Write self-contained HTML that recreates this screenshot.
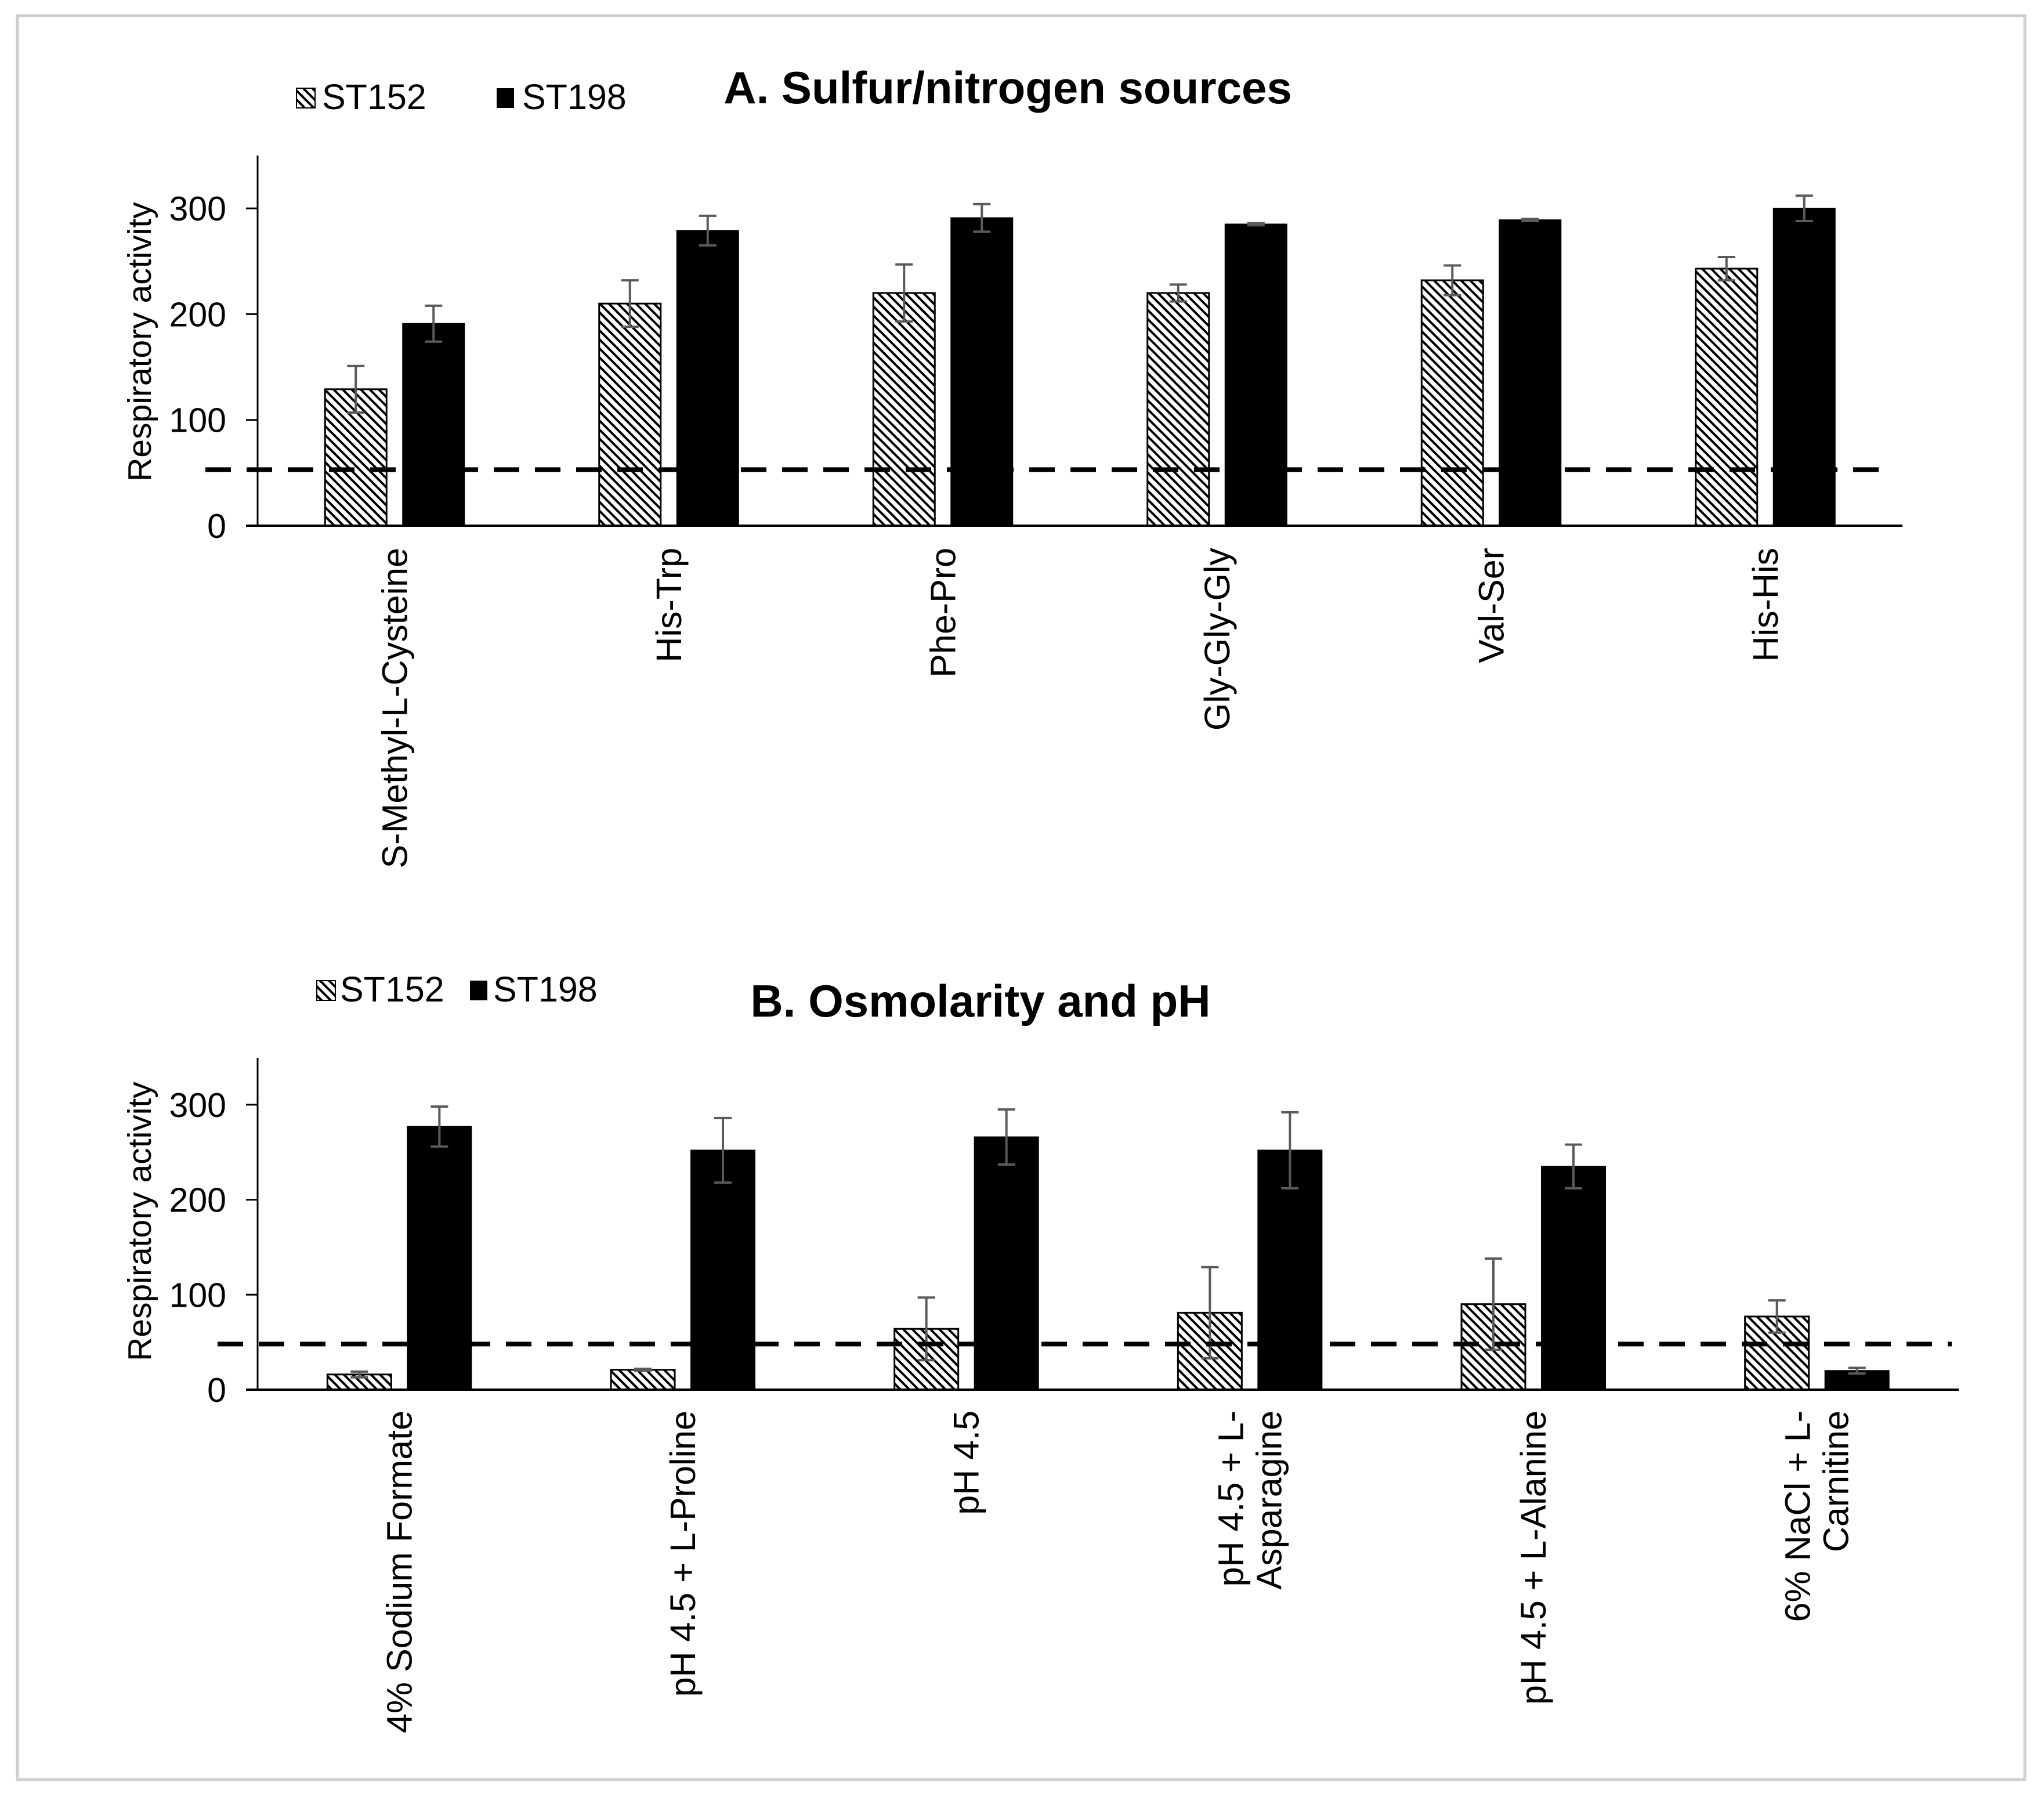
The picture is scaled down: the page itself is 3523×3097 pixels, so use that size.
<!DOCTYPE html>
<html><head><meta charset="utf-8">
<style>
html,body{margin:0;padding:0;background:#fff;}
svg{display:block;font-family:"Liberation Sans",Arial,sans-serif;}
</style></head>
<body>
<svg id="fig" width="3523" height="3097" viewBox="0 0 3523 3097" xmlns="http://www.w3.org/2000/svg">
<defs>
<pattern id="hatch" patternUnits="userSpaceOnUse" width="11" height="11" patternTransform="rotate(45)">
<rect width="11" height="11" fill="#fff"/>
<rect x="0" y="0" width="11" height="4" fill="#000"/>
</pattern>
</defs>
<rect x="30" y="27" width="3460" height="3040" fill="#fff" stroke="#cfcfcf" stroke-width="5"/>
<g id="chartA"></g>
<g id="chartB"></g>
</svg>
<script>
const catsA = [["S-Methyl-L-Cysteine"],["His-Trp"],["Phe-Pro"],["Gly-Gly-Gly"],["Val-Ser"],["His-His"]];
const st152A = [129, 210, 220, 220, 232, 243];
const st152ErrA = [22, 22, 27, 8, 14, 11];
const st198A = [191, 279, 291, 285, 289, 300];
const st198ErrA = [17, 14, 13, 1, 1, 12];
const thresholdA = 53;

const catsB = [["4% Sodium Formate"],["pH 4.5 + L-Proline"],["pH 4.5"],["pH 4.5 + L-","Asparagine"],["pH 4.5 + L-Alanine"],["6% NaCl + L-","Carnitine"]];
const st152B = [16, 21, 64, 81, 90, 77];
const st152ErrB = [3, 1, 33, 48, 48, 17];
const st198B = [277, 252, 266, 252, 235, 20];
const st198ErrB = [21, 34, 29, 40, 23, 3];
const thresholdB = 48;

const yTicks = [0, 100, 200, 300];

const NS = "http://www.w3.org/2000/svg";
function mk(parent, tag, attrs, text){
  const e = document.createElementNS(NS, tag);
  for (const k in attrs) e.setAttribute(k, attrs[k]);
  if (text !== undefined) e.textContent = text;
  parent.appendChild(e);
  return e;
}

function drawChart(g, cfg){
  const {x0, x1, y0, yTop, pxPer100, cats, s1, e1, s2, e2, thr, dashX0, dashX1, barW, off, labelTop, lineH, legend, title, ytitleY} = cfg;
  const yScale = v => y0 - v * pxPer100 / 100;
  const band = (x1 - x0) / cats.length;
  const xCenter = i => x0 + band * (i + 0.5);

  const t = mk(g, "text", {x: title.x, y: title.y, "font-size": 78, "font-weight": "bold", "text-anchor": "middle", fill: "#000"}, title.text);
  
  

  const l1 = mk(g, "rect", {x: legend.b1, y: legend.by, width: 32, height: 34, fill: "url(#hatch)", stroke: "#000", "stroke-width": 2});
  
  
  const lt1 = mk(g, "text", {x: legend.t1, y: legend.ty, "font-size": 61, fill: "#000"}, "ST152");
  
  
  const l2 = mk(g, "rect", {x: legend.b2, y: legend.by, width: 30, height: 34, fill: "#000"});
  
  
  const lt2 = mk(g, "text", {x: legend.t2, y: legend.ty, "font-size": 61, fill: "#000"}, "ST198");
  
  

  const yt = mk(g, "text", {x: 0, y: 0, "font-size": 57, "text-anchor": "middle", transform: `translate(260,${ytitleY}) rotate(-90)`, fill: "#000"}, "Respiratory activity");
  
  

  cats.forEach((c, i) => {
    const cx = xCenter(i);
    const b1 = mk(g, "rect", {x: cx - off - barW/2, y: yScale(s1[i]), width: barW, height: y0 - yScale(s1[i]), fill: "url(#hatch)", stroke: "#000", "stroke-width": 3});
    
    
    const b2 = mk(g, "rect", {x: cx + off - barW/2, y: yScale(s2[i]), width: barW, height: y0 - yScale(s2[i]), fill: "#000", stroke: "#000", "stroke-width": 2});
    
    
    [[cx - off, s1[i], e1[i]], [cx + off, s2[i], e2[i]]].forEach(([ex, v, e]) => {
      const eb = mk(g, "path", {d: `M${ex},${yScale(v+e)}V${yScale(v-e)}M${ex-15},${yScale(v+e)}H${ex+15}M${ex-15},${yScale(v-e)}H${ex+15}`, stroke: "#5a5a5a", "stroke-width": 4, fill: "none"});
      
      
    });
    const lab = mk(g, "text", {x: 0, y: 0, "font-size": 61, "text-anchor": "end", fill: "#000",
      transform: `translate(${cx + 21 - (c.length - 1) * lineH / 2},${labelTop}) rotate(-90)`});
    
    
    c.forEach((line, k) => {
      const ts = mk(lab, "tspan", {x: 0, dy: k === 0 ? 0 : lineH}, line);
      
      
    });
  });

  const d = mk(g, "line", {x1: dashX0, x2: dashX1, y1: yScale(thr), y2: yScale(thr), stroke: "#000", "stroke-width": 8, "stroke-dasharray": "44 27"});
  
  

  const ya = mk(g, "line", {x1: x0, x2: x0, y1: yTop, y2: y0, stroke: "#000", "stroke-width": 3});
  
  
  const xa = mk(g, "line", {x1: x0 - 20, x2: x1, y1: y0, y2: y0, stroke: "#000", "stroke-width": 4});
  
  
  yTicks.forEach(v => {
    const tk = mk(g, "line", {x1: x0 - 20, x2: x0, y1: yScale(v), y2: yScale(v), stroke: "#000", "stroke-width": 3});
    
    
    const tl = mk(g, "text", {x: 390, y: yScale(v) + 21, "font-size": 59, "text-anchor": "end", fill: "#000"}, String(v));
    
    
  });
}

drawChart(document.getElementById("chartA"), {
  x0: 444, x1: 3279, y0: 906, yTop: 268, pxPer100: 182.3,
  cats: catsA, s1: st152A, e1: st152ErrA, s2: st198A, e2: st198ErrA, thr: thresholdA,
  dashX0: 354, dashX1: 3262, barW: 106, off: 67, labelTop: 944, lineH: 66,
  legend: {b1: 511, t1: 555, b2: 856, t2: 900, by: 152, ty: 188},
  title: {x: 1737, y: 178, text: "A. Sulfur/nitrogen sources"}, ytitleY: 589
});
drawChart(document.getElementById("chartB"), {
  x0: 444, x1: 3376, y0: 2395, yTop: 1823, pxPer100: 163.7,
  cats: catsB, s1: st152B, e1: st152ErrB, s2: st198B, e2: st198ErrB, thr: thresholdB,
  dashX0: 375, dashX1: 3364, barW: 110, off: 69, labelTop: 2431, lineH: 66,
  legend: {b1: 546, t1: 586, b2: 810, t2: 850, by: 1690, ty: 1726},
  title: {x: 1690, y: 1752, text: "B. Osmolarity and pH"}, ytitleY: 2105
});
</script>
</body></html>
